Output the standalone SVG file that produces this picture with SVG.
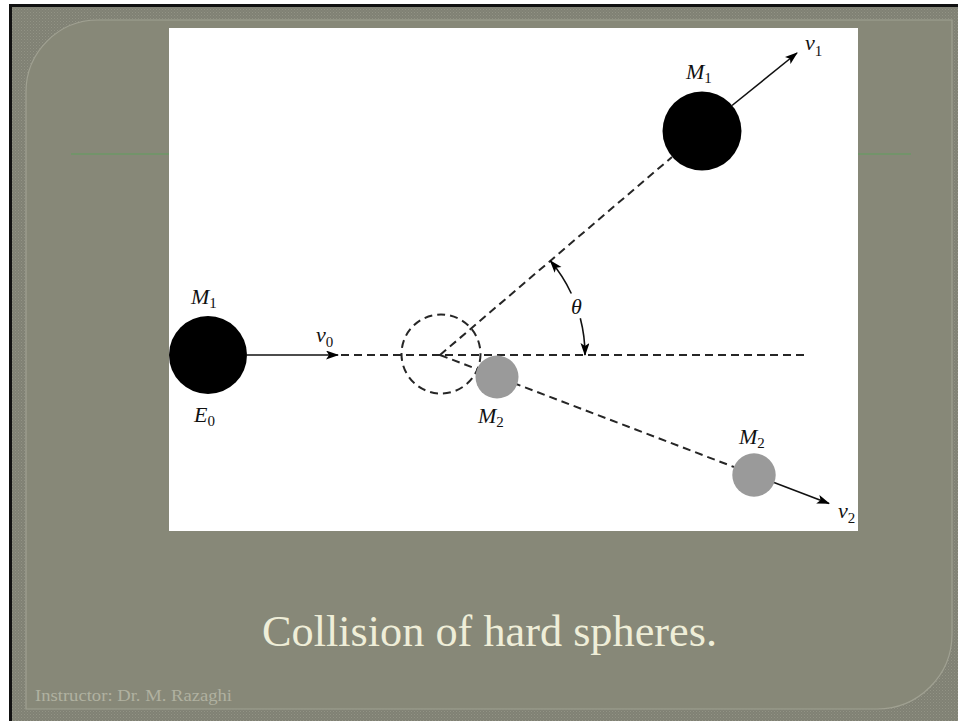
<svg xmlns="http://www.w3.org/2000/svg" width="958" height="721" viewBox="0 0 958 721">
<style>
.lbl{font-family:"Liberation Serif","Times New Roman",serif;font-style:italic;font-size:22px;fill:#111}
.sub{font-style:normal;font-size:15px}
.dash{fill:none;stroke:#262626;stroke-width:2;stroke-dasharray:8 5}
.solid{fill:none;stroke:#111;stroke-width:1.6}
.ball1{fill:#000}
.ball2{fill:#9a9a9a}
</style>
<defs>
<pattern id="tex" width="3" height="3" patternUnits="userSpaceOnUse">
<rect width="3" height="3" fill="#808174"/>
<rect width="1" height="1" fill="#929385"/>
<rect x="1.5" y="1.5" width="1" height="1" fill="#8c8d7f"/>
</pattern>
<marker id="arr" markerUnits="userSpaceOnUse" markerWidth="14" markerHeight="10" refX="12" refY="4.5" orient="auto">
<path d="M0,0 L13,4.5 L0,9 L3,4.5 Z" fill="#000"/>
</marker>
<clipPath id="imgclip"><rect x="169" y="28" width="689" height="503"/></clipPath>
</defs>

<g id="slide-background">
<rect width="958" height="721" fill="#ffffff"/>
<rect x="9" y="4" width="949" height="717" fill="#111111"/>
<rect x="12" y="7" width="946" height="714" fill="url(#tex)"/>
<path d="M26,92 A72,72 0 0 1 98,20 L952,20 L952,634 A75,75 0 0 1 877,709 L26,709 Z" fill="#878878" stroke="#a0a192" stroke-width="1.2"/>
<line x1="71" y1="154" x2="911" y2="154" stroke="#5f9f5c" stroke-width="1"/>
<rect x="169" y="28" width="689" height="503" fill="#ffffff"/>
</g>

<g id="connectors">
<line class="solid" x1="247" y1="355" x2="338" y2="355" marker-end="url(#arr)"/>
<line class="dash" x1="341" y1="355" x2="807" y2="355"/>
<line class="dash" x1="440" y1="355" x2="672" y2="157"/>
<line class="dash" x1="440" y1="355" x2="734" y2="467"/>
<line class="solid" x1="732" y1="105.5" x2="797" y2="53" marker-end="url(#arr)"/>
<line class="solid" x1="774" y1="482.5" x2="829" y2="503.5" marker-end="url(#arr)"/>
<path class="solid" d="M571.3,293.5 A145,145 0 0 0 550.3,260.8" marker-end="url(#arr)"/>
<path class="solid" d="M580.3,318.2 A145,145 0 0 1 585,355" marker-end="url(#arr)"/>
</g>

<g id="m1-initial">
<circle class="ball1" cx="208" cy="355" r="39"/>
<text class="lbl" x="191" y="304">M<tspan class="sub" dy="4">1</tspan></text>
<text class="lbl" x="194" y="422">E<tspan class="sub" dy="4">0</tspan></text>
</g>

<g id="collision-point">
<circle class="dash" cx="441" cy="354" r="39.5" stroke-width="1.7"/>
</g>

<g id="m1-scattered">
<circle class="ball1" cx="702" cy="131" r="39.5"/>
<text class="lbl" x="686" y="79">M<tspan class="sub" dy="4">1</tspan></text>
</g>

<g id="m2-initial">
<circle class="ball2" cx="497" cy="377" r="21.5"/>
<text class="lbl" x="478" y="423">M<tspan class="sub" dy="4">2</tspan></text>
</g>

<g id="m2-scattered">
<circle class="ball2" cx="754" cy="475" r="21.7"/>
<text class="lbl" x="739" y="444">M<tspan class="sub" dy="4">2</tspan></text>
</g>

<g id="velocity-labels">
<text class="lbl" x="316" y="342">v<tspan class="sub" dy="5">0</tspan></text>
<text class="lbl" x="805" y="50">v<tspan class="sub" dy="6">1</tspan></text>
<g clip-path="url(#imgclip)">
<text class="lbl" x="838" y="518">v<tspan class="sub" dy="5">2</tspan></text>
</g>
<text class="lbl" x="571" y="314">θ</text>
</g>

<g id="captions">
<text x="489.5" y="646" text-anchor="middle" font-family="Liberation Serif, Times New Roman, serif" font-size="44" fill="#efeed8" textLength="455" lengthAdjust="spacingAndGlyphs">Collision of hard spheres.</text>
<text x="35" y="701" font-family="Liberation Serif, Times New Roman, serif" font-size="17" fill="#b0b1a0" textLength="197" lengthAdjust="spacingAndGlyphs">Instructor: Dr. M. Razaghi</text>
</g>
</svg>
